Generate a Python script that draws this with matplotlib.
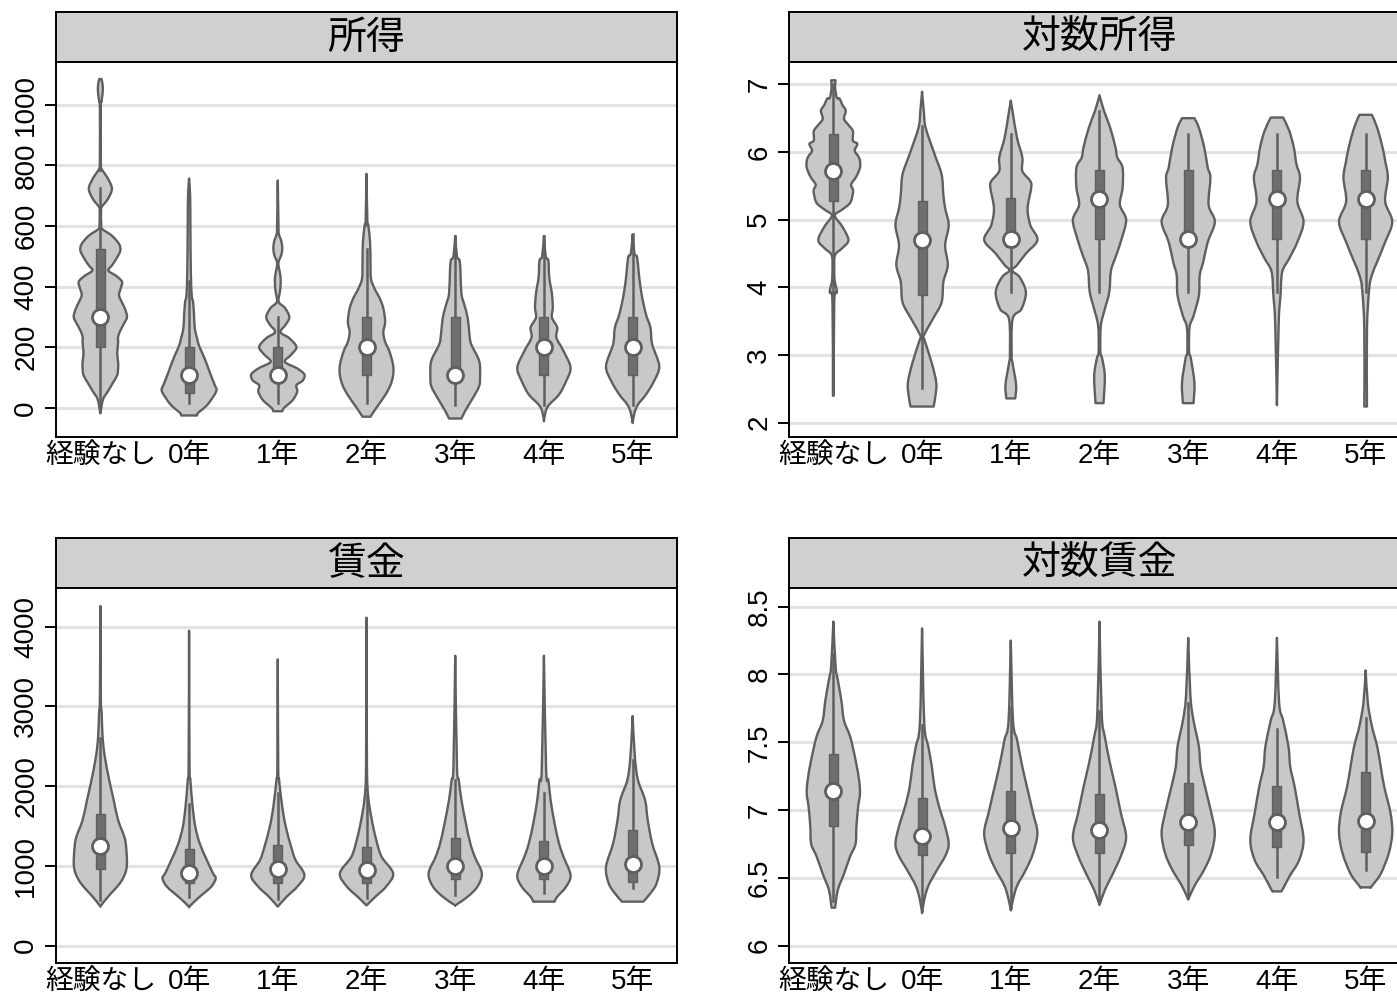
import matplotlib.pyplot as plt
from matplotlib.patches import Rectangle, PathPatch
from matplotlib.path import Path

plt.rcParams['font.family'] = ['Liberation Sans', 'Noto Sans CJK JP']

groups = ['経験なし', '0年', '1年', '2年', '3年', '4年', '5年']

# violin outlines: (value, half width in category units), top to bottom
inc_shape = [
    [(1085, .012), (1065, .026), (1040, .026), (1010, .012), (992, .005), (800, .006), (789, .012),
     (756, .086), (723, .13), (690, .086), (665, .02), (657, .008), (600, .01), (590, .02), (568, .13),
     (541, .21), (519, .225), (492, .18), (470, .13), (453, .09), (435, .18), (416, .244), (395, .23),
     (372, .21), (350, .24), (325, .28), (300, .30), (280, .27), (258, .23), (235, .2), (214, .2),
     (181, .19), (152, .2), (130, .2), (108, .19), (82, .14), (55, .086), (28, .03), (-18, 0)],
    [(757, 0), (700, .012), (600, .015), (450, .02), (371, .03), (349, .045), (305, .056), (261, .065),
     (230, .09), (207, .11), (180, .15), (152, .19), (120, .23), (97, .26), (75, .29), (60, .31),
     (45, .29), (32, .26), (15, .22), (0, .17), (-17, .1), (-25, .09)],
    [(750, 0), (600, .008), (574, .012), (550, .04), (527, .05), (505, .04), (480, .008), (458, .015),
     (435, .03), (410, .032), (385, .025), (350, .01), (330, .08), (300, .13), (275, .09), (250, .03),
     (230, .13), (201, .21), (175, .15), (152, .08), (130, .22), (110, .30), (90, .28), (75, .21),
     (55, .22), (35, .19), (20, .15), (0, .07), (-11, .05)],
    [(772, 0), (613, .01), (603, .02), (548, .04), (482, .045), (427, .05), (394, .09), (361, .15),
     (328, .19), (284, .21), (250, .19), (218, .21), (185, .26), (141, .30), (108, .30), (75, .27),
     (42, .21), (0, .11), (-29, .045)],
    [(567, 0), (500, .02), (486, .05), (442, .06), (376, .07), (343, .1), (298, .14), (243, .16),
     (210, .18), (155, .27), (105, .28), (72, .27), (33, .2), (-6, .12), (-35, .07)],
    [(567, 0), (500, .02), (486, .05), (431, .06), (376, .09), (331, .1), (298, .09), (265, .15),
     (232, .14), (188, .22), (133, .30), (88, .25), (44, .17), (11, .06), (-11, .02), (-44, 0)],
    [(572, 0), (510, .02), (497, .05), (442, .07), (376, .1), (309, .15), (265, .2), (210, .22),
     (138, .3), (88, .24), (44, .15), (11, .06), (-17, .02), (-50, 0)],
]
inc_q1 = [200, 50, 105, 108, 110, 110, 110]
inc_med = [300, 110, 110, 200, 110, 200, 200]
inc_q3 = [523, 200, 200, 300, 300, 300, 300]
inc_lo = [0, 15, 15, 15, 11, 11, 11]
inc_hi = [725, 420, 300, 525, 567, 567, 572]

lninc_shape = [
    [(7.06, .025), (6.95, .02), (6.80, .04), (6.79, .07), (6.70, .1), (6.61, .14), (6.49, .12),
     (6.40, .17), (6.31, .22), (6.17, .22), (6.12, .27), (6.02, .24), (5.94, .28), (5.87, .30),
     (5.77, .30), (5.64, .26), (5.52, .2), (5.45, .22), (5.39, .22), (5.25, .19), (5.15, .1),
     (5.08, .02), (5.02, .03), (4.90, .1), (4.70, .17), (4.58, .1), (4.48, .02), (4.30, .01),
     (4.10, .015), (3.93, .04), (3.78, .01), (2.40, .005)],
    [(6.89, 0), (6.60, .02), (6.36, .04), (5.97, .14), (5.67, .22), (5.37, .24), (5.17, .26),
     (4.92, .30), (4.62, .26), (4.33, .29), (4.08, .24), (3.78, .22), (3.53, .12), (3.28, .015),
     (3.23, .025), (2.88, .11), (2.59, .16), (2.39, .15), (2.24, .13)],
    [(6.76, 0), (6.56, .025), (6.21, .07), (5.92, .13), (5.72, .13), (5.57, .22), (5.47, .23),
     (5.17, .19), (4.92, .22), (4.70, .30), (4.50, .17), (4.33, .07), (4.25, .015), (4.15, .1),
     (3.93, .17), (3.68, .12), (3.53, .02), (3.00, .01), (2.88, .02), (2.56, .06), (2.36, .05)],
    [(6.84, 0), (6.61, .05), (6.36, .12), (6.07, .18), (5.92, .2), (5.77, .26), (5.47, .26),
     (5.22, .23), (5.00, .30), (4.72, .25), (4.48, .19), (4.25, .13), (3.93, .11), (3.68, .06),
     (3.43, .015), (3.05, .01), (2.95, .03), (2.69, .06), (2.29, .045)],
    [(6.50, .07), (6.36, .12), (6.07, .18), (5.77, .22), (5.62, .25), (5.22, .23), (4.97, .30),
     (4.67, .22), (4.38, .17), (4.18, .13), (3.88, .12), (3.58, .06), (3.41, .015), (3.05, .01),
     (2.95, .03), (2.59, .07), (2.29, .06)],
    [(6.51, .07), (6.31, .14), (6.07, .19), (5.82, .22), (5.62, .26), (5.27, .23), (4.97, .30),
     (4.67, .23), (4.43, .14), (4.23, .06), (3.88, .04), (3.48, .02), (2.26, 0)],
    [(6.55, .07), (6.36, .13), (6.07, .19), (5.87, .22), (5.62, .25), (5.27, .22), (4.97, .30),
     (4.67, .22), (4.38, .13), (4.18, .07), (3.98, .04), (3.38, .015), (2.24, .015)],
]
lninc_q1 = [5.28, 3.89, 4.60, 4.72, 4.72, 4.72, 4.72]
lninc_med = [5.72, 4.70, 4.72, 5.31, 4.72, 5.31, 5.31]
lninc_q3 = [6.27, 5.28, 5.32, 5.73, 5.73, 5.73, 5.73]
lninc_lo = [3.90, 2.51, 3.93, 3.93, 3.93, 3.93, 3.93]
lninc_hi = [7.00, 6.39, 6.26, 6.61, 6.26, 6.26, 6.26]

wage_shape = [
    [(4259, 0), (3122, .005), (2913, .015), (2621, .025), (2370, .05), (2077, .1), (1827, .15),
     (1576, .2), (1367, .27), (1241, .29), (1032, .30), (907, .28), (782, .22), (656, .12),
     (552, .04), (490, 0)],
    [(3950, 0), (2286, .005), (2077, .015), (1743, .04), (1492, .07), (1283, .12), (1074, .2),
     (907, .27), (844, .30), (740, .25), (614, .12), (510, .02), (480, 0)],
    [(3590, 0), (2245, .005), (2077, .015), (1743, .05), (1492, .09), (1241, .15), (1074, .2),
     (886, .30), (740, .22), (614, .1), (490, 0)],
    [(4113, 0), (2286, .005), (1868, .02), (1576, .06), (1325, .11), (1116, .17), (907, .30),
     (740, .22), (614, .1), (505, 0)],
    [(3636, 0), (2245, .02), (2077, .04), (1827, .07), (1534, .12), (1283, .17), (1116, .22),
     (907, .30), (740, .25), (614, .14), (520, .02), (505, 0)],
    [(3636, 0), (2203, .025), (2077, .05), (1827, .075), (1534, .12), (1283, .17), (1116, .22),
     (886, .30), (740, .25), (614, .15), (552, .12)],
    [(2880, 0), (2370, .025), (2077, .06), (1827, .14), (1576, .17), (1283, .22), (990, .30),
     (782, .27), (656, .2), (552, .12)],
]
wage_q1 = [957, 790, 790, 790, 836, 836, 803]
wage_med = [1254, 907, 961, 949, 1003, 1003, 1020]
wage_q3 = [1647, 1208, 1262, 1241, 1354, 1312, 1450]
wage_lo = [573, 614, 581, 594, 635, 665, 719]
wage_hi = [2600, 1780, 1920, 1900, 2077, 1910, 2328]

lnwage_shape = [
    [(8.39, 0), (8.06, .025), (7.96, .05), (7.81, .09), (7.66, .12), (7.54, .19), (7.37, .25),
     (7.22, .29), (7.12, .30), (7.03, .28), (6.88, .26), (6.75, .25), (6.66, .19), (6.53, .12),
     (6.41, .05), (6.28, .02)],
    [(8.34, 0), (7.64, .025), (7.47, .07), (7.32, .11), (7.17, .14), (7.03, .19), (6.88, .26),
     (6.75, .30), (6.66, .26), (6.56, .17), (6.44, .07), (6.34, .025), (6.24, 0)],
    [(8.25, 0), (7.66, .025), (7.52, .07), (7.32, .13), (7.15, .19), (6.98, .25), (6.83, .30),
     (6.68, .25), (6.56, .17), (6.44, .07), (6.34, .025), (6.26, 0)],
    [(8.39, 0), (7.71, .025), (7.54, .06), (7.34, .12), (7.17, .18), (6.98, .24), (6.80, .30),
     (6.66, .24), (6.53, .15), (6.41, .06), (6.30, 0)],
    [(8.27, 0), (7.84, .025), (7.66, .06), (7.47, .12), (7.32, .14), (7.17, .19), (6.98, .26),
     (6.83, .30), (6.68, .26), (6.56, .18), (6.44, .07), (6.34, 0)],
    [(8.27, 0), (7.79, .025), (7.66, .07), (7.47, .13), (7.32, .15), (7.17, .2), (6.98, .25),
     (6.78, .30), (6.63, .25), (6.51, .14), (6.41, .06), (6.40, .04)],
    [(8.03, 0), (7.79, .025), (7.62, .07), (7.47, .13), (7.32, .17), (7.17, .21), (6.98, .28),
     (6.83, .30), (6.68, .26), (6.53, .17), (6.44, .07), (6.43, .06)],
]
lnwage_q1 = [6.88, 6.67, 6.68, 6.68, 6.74, 6.73, 6.69]
lnwage_med = [7.14, 6.81, 6.87, 6.85, 6.91, 6.91, 6.92]
lnwage_q3 = [7.41, 7.09, 7.14, 7.12, 7.20, 7.18, 7.28]
lnwage_lo = [6.33, 6.26, 6.28, 6.34, 6.36, 6.51, 6.56]
lnwage_hi = [8.15, 7.63, 7.76, 7.73, 7.79, 7.60, 7.68]

FILL = '#c8c8c8'
EDGE = '#5f5f5f'
W, H = 1397, 996


def px_axes(fig, x0, y0, x1, y1):
    return fig.add_axes([x0 / W, 1 - y1 / H, (x1 - x0) / W, (y1 - y0) / H])


def smooth_side(pts):
    # cubic (Catmull-Rom style) segments through the outline points
    verts, codes = [], []
    n = len(pts)
    for i in range(n - 1):
        p0 = pts[max(i - 1, 0)]
        p1 = pts[i]
        p2 = pts[i + 1]
        p3 = pts[min(i + 2, n - 1)]
        c1 = (p1[0] + (p2[0] - p0[0]) / 6, p1[1] + (p2[1] - p0[1]) / 6)
        c2 = (p2[0] - (p3[0] - p1[0]) / 6, p2[1] - (p3[1] - p1[1]) / 6)
        verts += [c1, c2, p2]
        codes += [Path.CURVE4] * 3
    return verts, codes


def violin_path(pos, shp):
    right = [(pos + w, y) for y, w in shp]
    left = [(pos - w, y) for y, w in shp[::-1]]
    verts, codes = [right[0]], [Path.MOVETO]
    v, c = smooth_side(right)
    verts += v
    codes += c
    verts.append(left[0])
    codes.append(Path.LINETO)
    v, c = smooth_side(left)
    verts += v
    codes += c
    verts.append(right[0])
    codes.append(Path.CLOSEPOLY)
    return Path(verts, codes)


def draw_panel(fig, x0, y0, title, shapes, q1, med, q3, lo, hi, ylim, yticks, ylabels):
    bar = px_axes(fig, x0, y0 - 50, x0 + 621, y0)
    bar.set_facecolor('#d0d0d0')
    bar.set_xticks([])
    bar.set_yticks([])
    for s in bar.spines.values():
        s.set_linewidth(1.4)
    bar.text(0.5, 0.48, title, ha='center', va='center', fontsize=28,
             family='Noto Sans CJK JP', transform=bar.transAxes)

    ax = px_axes(fig, x0, y0, x0 + 621, y0 + 375)
    ax.set_xlim(0.5, 7.5)
    ax.set_ylim(*ylim)
    ax.set_axisbelow(True)
    ax.yaxis.grid(True, color='#e2e2e2', lw=2.2)
    for s in ax.spines.values():
        s.set_linewidth(1.4)

    for i, shp in enumerate(shapes):
        pos = i + 1
        ax.add_patch(PathPatch(violin_path(pos, shp), facecolor=FILL, edgecolor=EDGE,
                               lw=1.7, joinstyle='round', zorder=2))
        ax.plot([pos, pos], [lo[i], hi[i]], color=EDGE, lw=1.8, zorder=3)
        ax.add_patch(Rectangle((pos - 0.05, q1[i]), 0.1, q3[i] - q1[i],
                               facecolor='#6e6e6e', edgecolor=EDGE, lw=1.0, zorder=4))
        ax.plot(pos, med[i], 'o', ms=11.5, mfc='white', mec=EDGE, mew=2.0, zorder=5)

    ax.set_xticks(range(1, 8))
    ax.set_xticklabels(groups, fontsize=20)
    ax.tick_params(axis='x', length=0, pad=4)
    ax.set_yticks(yticks)
    ax.set_yticklabels(ylabels, rotation=90, va='center', fontsize=20)
    ax.tick_params(axis='y', length=8, width=1.4, pad=4)
    return ax


fig = plt.figure(figsize=(W / 100, H / 100), dpi=100)

draw_panel(fig, 56, 62, '所得', inc_shape, inc_q1, inc_med, inc_q3, inc_lo, inc_hi,
           (-96, 1141), [0, 200, 400, 600, 800, 1000], ['0', '200', '400', '600', '800', '1000'])
draw_panel(fig, 789, 62, '対数所得', lninc_shape, lninc_q1, lninc_med, lninc_q3, lninc_lo, lninc_hi,
           (1.79, 7.33), [2, 3, 4, 5, 6, 7], ['2', '3', '4', '5', '6', '7'])
draw_panel(fig, 56, 588, '賃金', wage_shape, wage_q1, wage_med, wage_q3, wage_lo, wage_hi,
           (-217, 4485), [0, 1000, 2000, 3000, 4000], ['0', '1000', '2000', '3000', '4000'])
draw_panel(fig, 789, 588, '対数賃金', lnwage_shape, lnwage_q1, lnwage_med, lnwage_q3, lnwage_lo,
           lnwage_hi, (5.872, 8.638), [6, 6.5, 7, 7.5, 8, 8.5], ['6', '6.5', '7', '7.5', '8', '8.5'])

fig.savefig('out.png', dpi=100)
